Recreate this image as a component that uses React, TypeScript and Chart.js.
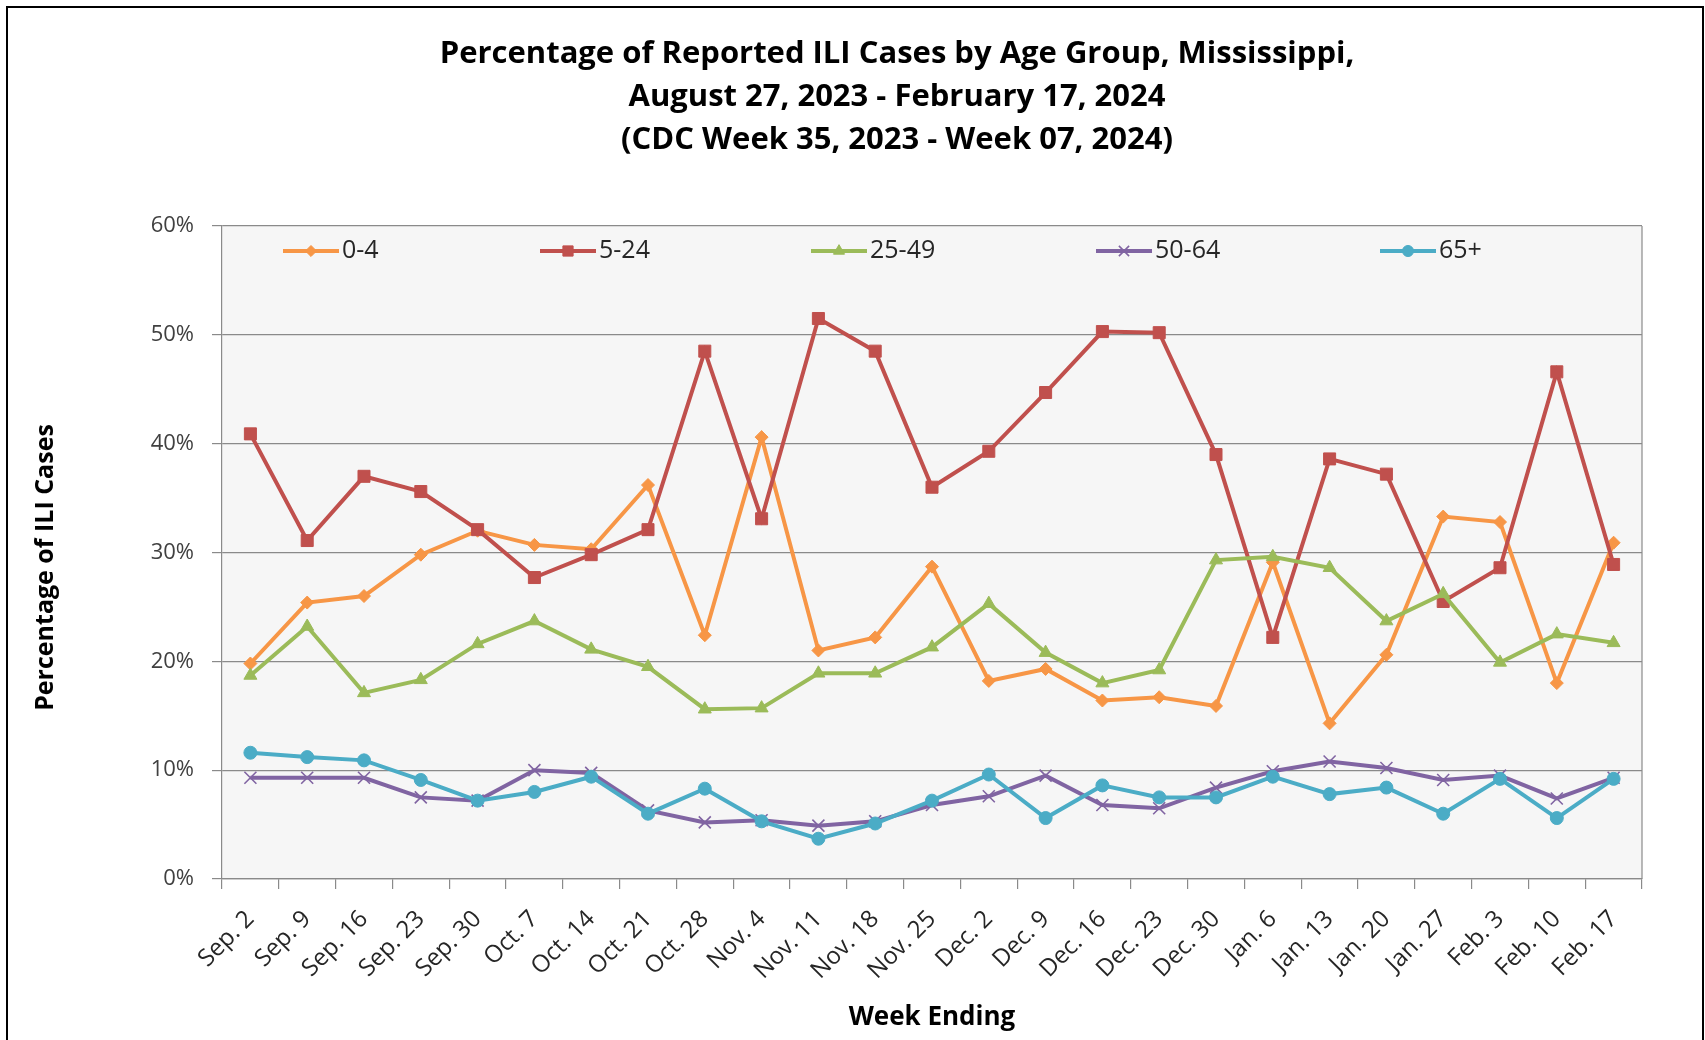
import React, { useEffect, useRef } from 'react';
import { Chart, registerables } from 'chart.js';
import { drawPoint } from 'chart.js/helpers';

Chart.register(...registerables);

const weeks = [
  'Sep. 2', 'Sep. 9', 'Sep. 16', 'Sep. 23', 'Sep. 30',
  'Oct. 7', 'Oct. 14', 'Oct. 21', 'Oct. 28',
  'Nov. 4', 'Nov. 11', 'Nov. 18', 'Nov. 25',
  'Dec. 2', 'Dec. 9', 'Dec. 16', 'Dec. 23', 'Dec. 30',
  'Jan. 6', 'Jan. 13', 'Jan. 20', 'Jan. 27',
  'Feb. 3', 'Feb. 10', 'Feb. 17',
];

const age0to4 = [19.8, 25.4, 26.0, 29.8, 32.0, 30.7, 30.3, 36.2, 22.4, 40.6, 21.0, 22.2, 28.7, 18.2, 19.3, 16.4, 16.7, 15.9, 29.1, 14.3, 20.6, 33.3, 32.8, 18.0, 30.9];
const age5to24 = [40.9, 31.1, 37.0, 35.6, 32.1, 27.7, 29.8, 32.1, 48.5, 33.1, 51.5, 48.5, 36.0, 39.3, 44.7, 50.3, 50.2, 39.0, 22.2, 38.6, 37.2, 25.5, 28.6, 46.6, 28.9];
const age25to49 = [18.7, 23.2, 17.1, 18.3, 21.6, 23.7, 21.1, 19.5, 15.6, 15.7, 18.9, 18.9, 21.3, 25.3, 20.8, 18.0, 19.2, 29.3, 29.6, 28.6, 23.7, 26.2, 19.9, 22.5, 21.7];
const age50to64 = [9.3, 9.3, 9.3, 7.5, 7.2, 10.0, 9.75, 6.3, 5.2, 5.4, 4.9, 5.3, 6.8, 7.6, 9.5, 6.8, 6.5, 8.4, 9.9, 10.8, 10.2, 9.1, 9.5, 7.4, 9.3];
const age65plus = [11.6, 11.2, 10.9, 9.1, 7.2, 8.0, 9.4, 6.0, 8.3, 5.3, 3.7, 5.1, 7.2, 9.6, 5.6, 8.6, 7.5, 7.5, 9.4, 7.8, 8.4, 6.0, 9.2, 5.6, 9.2];

const seriesNames = ['0-4', '5-24', '25-49', '50-64', '65+'];
const seriesData = [age0to4, age5to24, age25to49, age50to64, age65plus];

const titleLines = [
  'Percentage of Reported ILI Cases by Age Group, Mississippi,',
  'August 27, 2023 - February 17, 2024',
  '(CDC Week 35, 2023 - Week 07, 2024)',
];
const yAxisTitle = 'Percentage of ILI Cases';
const xAxisTitle = 'Week Ending';
const yMin = 0;
const yMax = 60;
const yStep = 10;

const colors = ['#F79646', '#C0504D', '#9BBB59', '#8064A2', '#4BACC6'];
const pointStyles = ['rectRot', 'rect', 'triangle', 'crossRot', 'circle'];
const pointRadii = [6.5, 8.5, 7.5, 8.5, 6.5];
const pointBorders = [1, 1, 1, 1.6, 1];
const legendX = [283, 540, 811, 1096, 1380];

const GRID = '#8a8a8a';
const FONT = '"Open Sans", "Noto Sans", sans-serif';

const plotBgPlugin = {
  id: 'plotBg',
  beforeDraw(chart: any) {
    const { ctx, chartArea: a } = chart;
    ctx.save();
    ctx.fillStyle = '#f6f6f6';
    ctx.fillRect(a.left, a.top, a.right - a.left, a.bottom - a.top);
    ctx.restore();
  },
  beforeDatasetsDraw(chart: any) {
    const { ctx, chartArea: a } = chart;
    ctx.save();
    ctx.strokeStyle = GRID;
    ctx.lineWidth = 1.2;
    ctx.beginPath();
    ctx.moveTo(a.right, a.top);
    ctx.lineTo(a.right, a.bottom);
    ctx.stroke();
    ctx.restore();
  },
};

const titlePlugin = {
  id: 'mainTitle',
  afterDraw(chart: any) {
    const { ctx } = chart;
    ctx.save();
    ctx.font = 'bold 31px ' + FONT;
    ctx.fillStyle = '#000';
    ctx.textAlign = 'center';
    ctx.textBaseline = 'middle';
    titleLines.forEach((line, i) => ctx.fillText(line, 897, 54 + i * 43));
    ctx.restore();
  },
};

const legendPlugin = {
  id: 'insideLegend',
  afterDraw(chart: any) {
    const { ctx, chartArea: a } = chart;
    const y = a.top + 25;
    ctx.save();
    chart.data.datasets.forEach((ds: any, i: number) => {
      const x0 = legendX[i];
      ctx.strokeStyle = ds.borderColor;
      ctx.lineWidth = 4;
      ctx.beginPath();
      ctx.moveTo(x0, y);
      ctx.lineTo(x0 + 56, y);
      ctx.stroke();
      ctx.fillStyle = ds.backgroundColor;
      ctx.strokeStyle = ds.borderColor;
      ctx.lineWidth = ds.pointBorderWidth;
      drawPoint(ctx, { pointStyle: ds.pointStyle, rotation: 0, radius: ds.pointRadius * 0.85, borderWidth: ds.pointBorderWidth }, x0 + 28, y);
      ctx.fillStyle = '#262626';
      ctx.font = '25px ' + FONT;
      ctx.textAlign = 'left';
      ctx.textBaseline = 'middle';
      ctx.fillText(ds.label, x0 + 59, y);
    });
    ctx.restore();
  },
};

const yTitlePlugin = {
  id: 'yTitle',
  afterDraw(chart: any) {
    const { ctx, chartArea: a } = chart;
    ctx.save();
    ctx.translate(46, (a.top + a.bottom) / 2 + 15);
    ctx.rotate(-Math.PI / 2);
    ctx.font = 'bold 25px ' + FONT;
    ctx.fillStyle = '#000';
    ctx.textAlign = 'center';
    ctx.textBaseline = 'middle';
    ctx.fillText(yAxisTitle, 0, 0);
    ctx.restore();
  },
};

export default function App() {
  const canvasRef = useRef<HTMLCanvasElement | null>(null);

  useEffect(() => {
    if (!canvasRef.current) return;
    const datasets = seriesNames.map((name, i) => ({
      label: name,
      data: seriesData[i],
      borderColor: colors[i],
      backgroundColor: colors[i],
      borderWidth: 4,
      pointStyle: pointStyles[i],
      pointRadius: pointRadii[i],
      pointHoverRadius: pointRadii[i],
      pointBorderWidth: pointBorders[i],
      pointBackgroundColor: colors[i],
      pointBorderColor: colors[i],
      tension: 0,
      order: seriesNames.length - i,
    }));

    const chart = new Chart(canvasRef.current, {
      type: 'line',
      data: { labels: weeks, datasets },
      options: {
        responsive: false,
        animation: false,
        devicePixelRatio: 1,
        layout: { padding: { left: 0, right: 63, top: 226, bottom: 0 } },
        plugins: {
          legend: { display: false },
          tooltip: { enabled: false },
          title: { display: false },
        },
        scales: {
          x: {
            type: 'category',
            offset: true,
            grid: {
              display: true,
              drawOnChartArea: false,
              drawTicks: true,
              tickLength: 10,
              offset: true,
              color: GRID,
              lineWidth: 1.2,
            },
            border: { display: true, color: GRID, width: 1.2 },
            ticks: {
              autoSkip: false,
              maxRotation: 45,
              minRotation: 45,
              padding: 16,
              color: '#262626',
              font: { family: FONT, size: 24 },
            },
            title: {
              display: true,
              text: xAxisTitle,
              color: '#000',
              font: { family: FONT, size: 26, weight: 'bold' },
              padding: { top: 0, bottom: 7 },
            },
            afterFit(scale: any) {
              scale.height = 161;
            },
          },
          y: {
            min: yMin,
            max: yMax,
            grid: {
              color: GRID,
              lineWidth: 1.2,
              tickLength: 10,
              drawTicks: true,
            },
            border: { display: true, color: GRID, width: 1.2 },
            ticks: {
              stepSize: yStep,
              padding: 18,
              color: '#404040',
              font: { family: FONT, size: 22 },
              callback: (v: any) => v + '%',
            },
            afterFit(scale: any) {
              scale.width = 222;
            },
          },
        },
      },
      plugins: [plotBgPlugin, legendPlugin, yTitlePlugin, titlePlugin],
    } as any);

    return () => chart.destroy();
  }, []);

  return (
    <div style={{ position: 'fixed', left: 0, top: 0, width: 1705, height: 1040, overflow: 'hidden', background: '#fff' }}>
      <div style={{ position: 'absolute', left: 6, top: 6, width: 1698, height: 1100, border: '2px solid #000', boxSizing: 'border-box' }} />
      <canvas ref={canvasRef} width={1705} height={1040} style={{ position: 'absolute', left: 0, top: 0 }} />
    </div>
  );
}
